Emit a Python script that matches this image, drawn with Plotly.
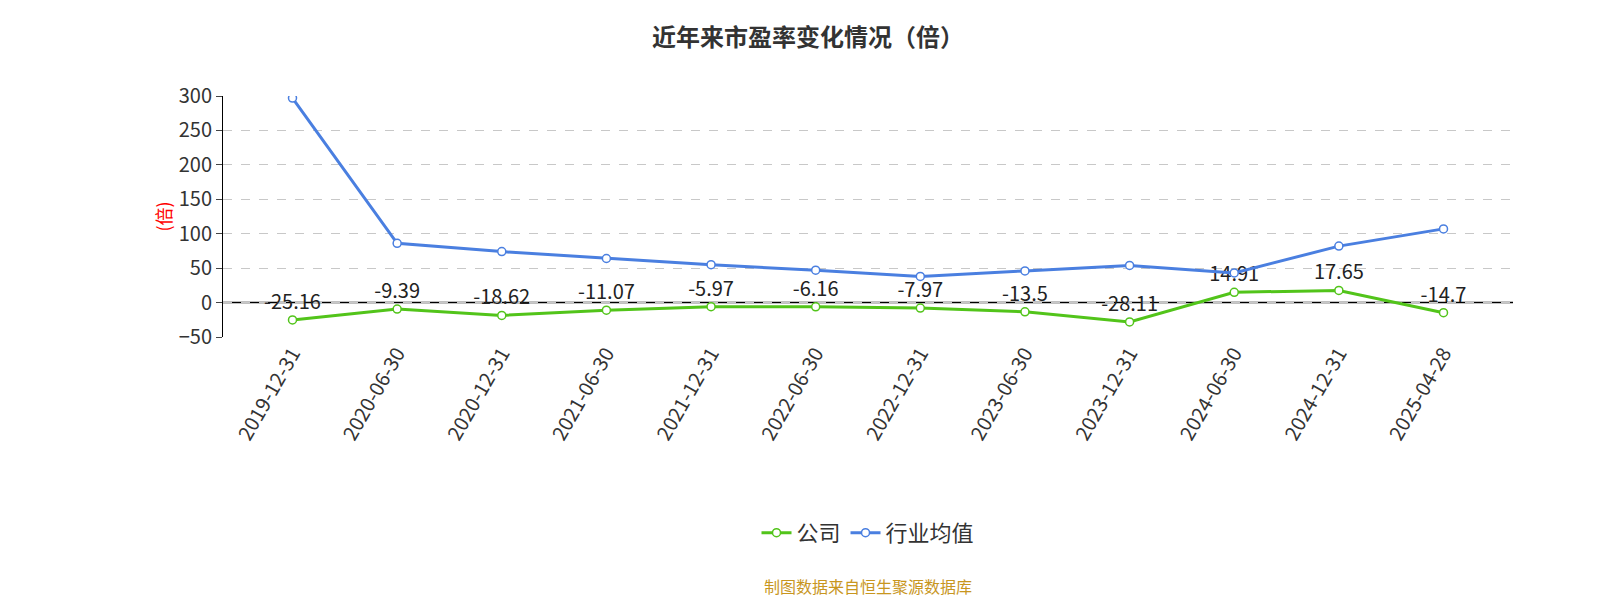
import plotly.graph_objects as go

dates = ["2019-12-31","2020-06-30","2020-12-31","2021-06-30","2021-12-31","2022-06-30",
         "2022-12-31","2023-06-30","2023-12-31","2024-06-30","2024-12-31","2025-04-28"]
company = [-25.16,-9.39,-18.62,-11.07,-5.97,-6.16,-7.97,-13.5,-28.11,14.91,17.65,-14.7]
industry = [297,86,74,64,55,47,38,46,54,43,82,107]
yticks = [-50,0,50,100,150,200,250,300]

fig = go.Figure()
fig.add_trace(go.Scatter(x=dates, y=company, name="公司", mode="lines+markers+text",
    text=[str(v) for v in company], textposition="top center",
    textfont=dict(size=20, color="#222"),
    line=dict(color="#52c41a", width=3),
    marker=dict(size=8, color="white", line=dict(color="#52c41a", width=1.5))))
fig.add_trace(go.Scatter(x=dates, y=industry, name="行业均值", mode="lines+markers",
    line=dict(color="#4a7fe0", width=3),
    marker=dict(size=8, color="white", line=dict(color="#4a7fe0", width=1.5))))

fig.update_layout(
    width=1600, height=600, plot_bgcolor="white", paper_bgcolor="white",
    font=dict(family="Noto Sans CJK SC", color="#333"),
    title=dict(text="<b>近年来市盈率变化情况（倍）</b>", x=0.5, y=0.965, xanchor="center",
               font=dict(size=24, color="#333")),
    margin=dict(l=215, r=95, t=88, b=271),
    showlegend=True,
    legend=dict(orientation="h", x=0.5, xanchor="center", y=-0.813, yanchor="middle",
                font=dict(size=22, color="#333")),
    xaxis=dict(type="category", tickangle=-60, tickfont=dict(size=20, color="#333"),
               showline=False, ticks="", showgrid=False),
    yaxis=dict(range=[-50, 300], tickvals=yticks, tickfont=dict(size=20, color="#333"),
               showline=True, linecolor="#000", ticks="outside", ticklen=6,
               gridcolor="#c8c8c8", griddash="dash", zeroline=False,
               title=dict(text="(倍)", font=dict(size=18, color="red"), standoff=2)),
    annotations=[dict(text="制图数据来自恒生聚源数据库", x=0.5, xref="paper", y=-1.033, yref="paper",
                      yanchor="middle", showarrow=False, font=dict(size=16, color="#c8961e"))],
)
fig.add_shape(type="line", xref="paper", x0=0, x1=1, yref="y", y0=0, y1=0,
              line=dict(color="#000", width=1.5), layer="below")
fig.write_html("out.html")
